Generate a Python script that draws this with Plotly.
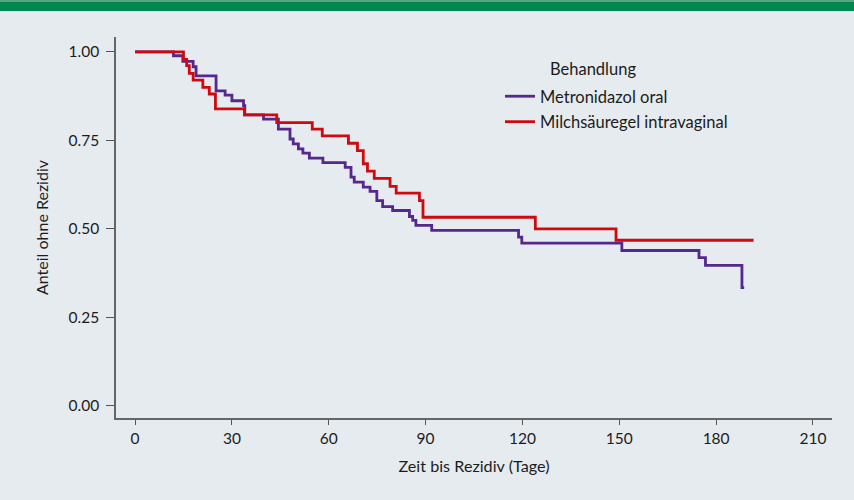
import plotly.graph_objects as go

# Kaplan-Meier step data
metro_days = [0, 11.9, 14.8, 18, 18.9, 25.1, 27.9, 30, 33.6, 34, 39.8, 44.4, 48, 49, 50.6,
              52.0, 54, 58.2, 65.1, 66.9, 67.9, 70.7, 72.8, 74.9, 76.7, 79.8, 85, 86, 87,
              91.9, 118.8, 119.8, 150.8, 174.7, 176.7, 188, 188.7]
metro_surv = [1.0, 0.989, 0.973, 0.958, 0.932, 0.890, 0.878, 0.862, 0.848, 0.822, 0.810,
              0.782, 0.754, 0.740, 0.726, 0.714, 0.700, 0.687, 0.674, 0.646, 0.632, 0.618,
              0.606, 0.580, 0.563, 0.552, 0.535, 0.524, 0.510, 0.496, 0.477, 0.460, 0.439,
              0.419, 0.397, 0.334, 0.334]

gel_days = [0, 15, 16, 16.8, 18, 21, 23, 24.9, 33.9, 43.9, 54.9, 58, 66.1, 68.9, 70.7, 72,
            74.1, 79, 80.9, 88.1, 89.2, 124, 149, 191.6]
gel_surv = [1.0, 0.979, 0.961, 0.939, 0.920, 0.900, 0.881, 0.839, 0.822, 0.800, 0.782,
            0.763, 0.742, 0.721, 0.684, 0.663, 0.643, 0.620, 0.601, 0.580, 0.533, 0.500,
            0.468, 0.468]

series_names = ["Metronidazol oral", "Milchsäuregel intravaginal"]
x_ticks = [0, 30, 60, 90, 120, 150, 180, 210]
y_ticks = [0.0, 0.25, 0.5, 0.75, 1.0]

PURPLE = "#55288e"
RED = "#cc0a0f"
BG = "#e6ebef"
FONT = "Lato"
TXT = "#1c1c1c"

fig = go.Figure()
fig.add_trace(go.Scatter(x=metro_days, y=metro_surv, mode="lines", name=series_names[0],
                         line=dict(color=PURPLE, width=2.8, shape="hv"), legendgroup="a"))
fig.add_trace(go.Scatter(x=gel_days, y=gel_surv, mode="lines", name=series_names[1],
                         line=dict(color=RED, width=2.8, shape="hv"), legendgroup="b"))

L, R, T, B = 116, 22, 37, 82
W, H = 854, 500
pw, ph = W - L - R, H - T - B

def px(x):
    return (x - L) / pw

def py(y):
    return 1 - (y - T) / ph

fig.update_layout(
    width=W, height=H,
    margin=dict(l=L, r=R, t=T, b=B, pad=0),
    paper_bgcolor=BG, plot_bgcolor=BG,
    font=dict(family=FONT, size=15, color=TXT),
    showlegend=True,
    legend=dict(x=px(500), y=py(79), xanchor="left", yanchor="top",
                bgcolor="rgba(0,0,0,0)", font=dict(size=16.5, family=FONT, color=TXT),
                tracegroupgap=1, traceorder="grouped"),
    xaxis=dict(range=[-5.9, 215.9], tickvals=x_ticks, ticks="outside", ticklen=5,
               tickcolor="#555", showline=True, linecolor="#666", linewidth=1.5,
               showgrid=False, zeroline=False, tickfont=dict(size=15.5),
               ticklabelstandoff=1, automargin=False,
               title=dict(text="Zeit bis Rezidiv (Tage)", font=dict(size=16.2), standoff=14)),
    yaxis=dict(range=[-0.034, 1.042], tickvals=y_ticks, tickformat=".2f", ticks="outside",
               ticklen=8, tickcolor="#555", showline=True, linecolor="#666", linewidth=1.5,
               showgrid=False, zeroline=False, tickfont=dict(size=15.5),
               ticklabelstandoff=4, automargin=False,
               title=dict(text="Anteil ohne Rezidiv", font=dict(size=16), standoff=16)),
    shapes=[dict(type="rect", xref="paper", yref="paper", x0=px(0), x1=px(W),
                 y0=py(11), y1=py(2), fillcolor="#00864f", line=dict(width=0), layer="above"),
            dict(type="rect", xref="paper", yref="paper", x0=px(0), x1=px(W),
                 y0=py(2), y1=py(0), fillcolor="#5aa47f", line=dict(width=0), layer="above")],
    annotations=[dict(text="Behandlung", xref="paper", yref="paper", x=px(548), y=py(69),
                      xanchor="left", yanchor="middle", showarrow=False,
                      font=dict(size=16.5, family=FONT, color=TXT))],
)

fig.write_html("out.html", config={"displayModeBar": False},
               post_script="document.body.style.margin='0';")
